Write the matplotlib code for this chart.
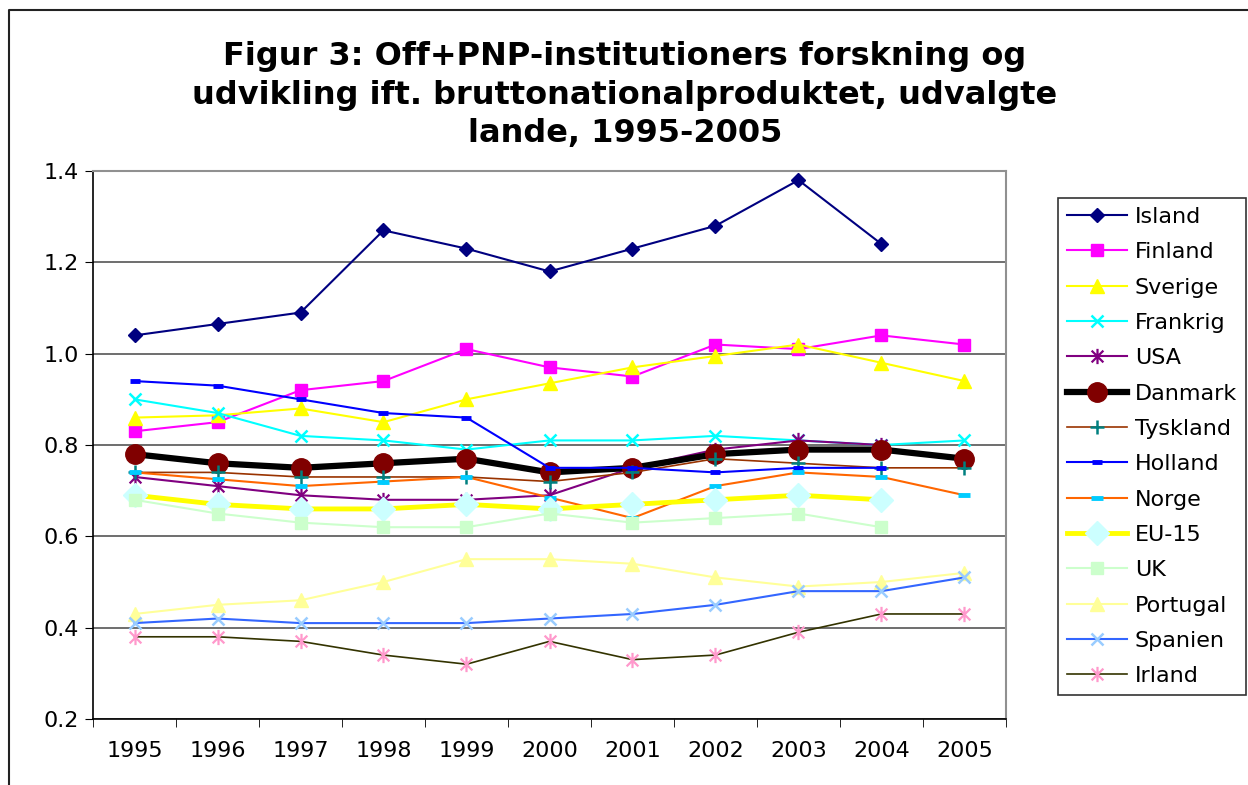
import matplotlib
matplotlib.use("Agg")
import matplotlib.pyplot as plt
from matplotlib.path import Path
from matplotlib.lines import Line2D

plt.rcParams["font.family"] = ["DejaVu Sans"]

years = ["1995", "1996", "1997", "1998", "1999", "2000", "2001", "2002", "2003", "2004", "2005"]
N = None

island = [1.04, 1.065, 1.09, 1.27, 1.23, 1.18, 1.23, 1.28, 1.38, 1.24, N]
finland = [0.83, 0.85, 0.92, 0.94, 1.01, 0.97, 0.95, 1.02, 1.01, 1.04, 1.02]
sverige = [0.86, 0.865, 0.88, 0.85, 0.90, 0.935, 0.97, 0.995, 1.02, 0.98, 0.94]
frankrig = [0.90, 0.87, 0.82, 0.81, 0.79, 0.81, 0.81, 0.82, 0.81, 0.80, 0.81]
usa = [0.73, 0.71, 0.69, 0.68, 0.68, 0.69, 0.75, 0.79, 0.81, 0.80, N]
danmark = [0.78, 0.76, 0.75, 0.76, 0.77, 0.74, 0.75, 0.78, 0.79, 0.79, 0.77]
tyskland = [0.74, 0.74, 0.73, 0.73, 0.73, 0.72, 0.74, 0.77, 0.76, 0.75, 0.75]
holland = [0.94, 0.93, 0.90, 0.87, 0.86, 0.75, 0.75, 0.74, 0.75, 0.75, N]
norge = [0.74, 0.725, 0.71, 0.72, 0.73, 0.685, 0.64, 0.71, 0.74, 0.73, 0.69]
eu15 = [0.69, 0.67, 0.66, 0.66, 0.67, 0.66, 0.67, 0.68, 0.69, 0.68, N]
uk = [0.68, 0.65, 0.63, 0.62, 0.62, 0.65, 0.63, 0.64, 0.65, 0.62, N]
portugal = [0.43, 0.45, 0.46, 0.50, 0.55, 0.55, 0.54, 0.51, 0.49, 0.50, 0.52]
spanien = [0.41, 0.42, 0.41, 0.41, 0.41, 0.42, 0.43, 0.45, 0.48, 0.48, 0.51]
irland = [0.38, 0.38, 0.37, 0.34, 0.32, 0.37, 0.33, 0.34, 0.39, 0.43, 0.43]

# excel-style star: an x with a vertical stroke through it
star = Path([(-1, -1), (1, 1), (-1, 1), (1, -1), (0, -1.3), (0, 1.3)],
            [Path.MOVETO, Path.LINETO, Path.MOVETO, Path.LINETO, Path.MOVETO, Path.LINETO])

# name, values, line colour, marker, marker colour, marker size, line width
series = [
    ("Island", island, "#000080", "D", "#000080", 7, 1.5),
    ("Finland", finland, "#FF00FF", "s", "#FF00FF", 8, 1.5),
    ("Sverige", sverige, "#FFFF00", "^", "#FFFF00", 10, 1.5),
    ("Frankrig", frankrig, "#00FFFF", "x", "#00FFFF", 9, 1.5),
    ("USA", usa, "#800080", star, "#800080", 11, 1.5),
    ("Danmark", danmark, "#000000", "o", "#800000", 14, 4.5),
    ("Tyskland", tyskland, "#993300", "+", "#008080", 10, 1.2),
    ("Holland", holland, "#0000FF", "_", "#0000FF", 7, 1.5),
    ("Norge", norge, "#FF6600", "_", "#00CCFF", 9, 1.5),
    ("EU-15", eu15, "#FFFF00", "D", "#CCFFFF", 12, 3.5),
    ("UK", uk, "#CCFFCC", "s", "#CCFFCC", 8, 1.5),
    ("Portugal", portugal, "#FFFF99", "^", "#FFFF99", 10, 1.5),
    ("Spanien", spanien, "#3366FF", "x", "#99CCFF", 9, 1.5),
    ("Irland", irland, "#333300", star, "#FF99CC", 11, 1.2),
]

fig = plt.figure(figsize=(12.48, 7.85), dpi=100)
ax = fig.add_axes([93 / 1248, 1 - 719 / 785, 913 / 1248, 548 / 785])

x = list(range(len(years)))
for name, vals, lc, mk, mf, ms, lw in series:
    pts = [(xi, v) for xi, v in zip(x, vals) if v is not None]
    xs = [p[0] for p in pts]
    ys = [p[1] for p in pts]
    if mk in ("x", "+"):
        mew = 1.8
    elif mk == "_":
        mew = 3.5
    elif mk is star:
        mew = 1.6
    else:
        mew = 1
    ax.plot(xs, ys, color=lc, lw=lw, marker=mk, markersize=ms,
            markerfacecolor=mf, markeredgecolor=mf, markeredgewidth=mew, label=name)

ax.set_xlim(-0.5, len(years) - 0.5)
ax.set_ylim(0.2, 1.4)
ax.set_yticks([0.2, 0.4, 0.6, 0.8, 1.0, 1.2, 1.4])
ax.set_yticklabels(["0.2", "0.4", "0.6", "0.8", "1.0", "1.2", "1.4"])
ax.set_xticks(x)
ax.set_xticklabels(years)
ax.set_xticks([i - 0.5 for i in range(len(years) + 1)], minor=True)
ax.tick_params(axis="x", which="major", length=0, labelsize=16, pad=16)
ax.tick_params(axis="x", which="minor", length=6, direction="out", color="black")
ax.tick_params(axis="y", length=6, direction="out", labelsize=16, pad=4)
ax.grid(axis="y", color="#555555", lw=1.2)
ax.set_axisbelow(True)
for s in ("top", "right"):
    ax.spines[s].set_color("#909090")
    ax.spines[s].set_linewidth(1.5)
for s in ("left", "bottom"):
    ax.spines[s].set_color("black")
    ax.spines[s].set_linewidth(1.2)

title_lines = ["Figur 3: Off+PNP-institutioners forskning og",
               "udvikling ift. bruttonationalproduktet, udvalgte",
               "lande, 1995-2005"]
for line, base in zip(title_lines, [65, 104, 142]):
    fig.text(625 / 1248, 1 - base / 785, line, ha="center", va="baseline",
             fontsize=23, fontweight="bold")

leg = ax.legend(loc="upper left", bbox_to_anchor=(1058 / 1248, 1 - 198 / 785),
                bbox_transform=fig.transFigure, fontsize=16, frameon=True,
                fancybox=False, edgecolor="black", handlelength=2.7,
                labelspacing=0.69, borderpad=0.4, handletextpad=0.35,
                borderaxespad=0)
leg.get_frame().set_linewidth(1.2)

# outer chart-area border (left and top edges visible)
fig.add_artist(Line2D([9 / 1248, 9 / 1248, 1], [0, 1 - 10 / 785, 1 - 10 / 785],
                      transform=fig.transFigure, color="#222222", lw=1.5))

fig.savefig("out.png", dpi=100)
